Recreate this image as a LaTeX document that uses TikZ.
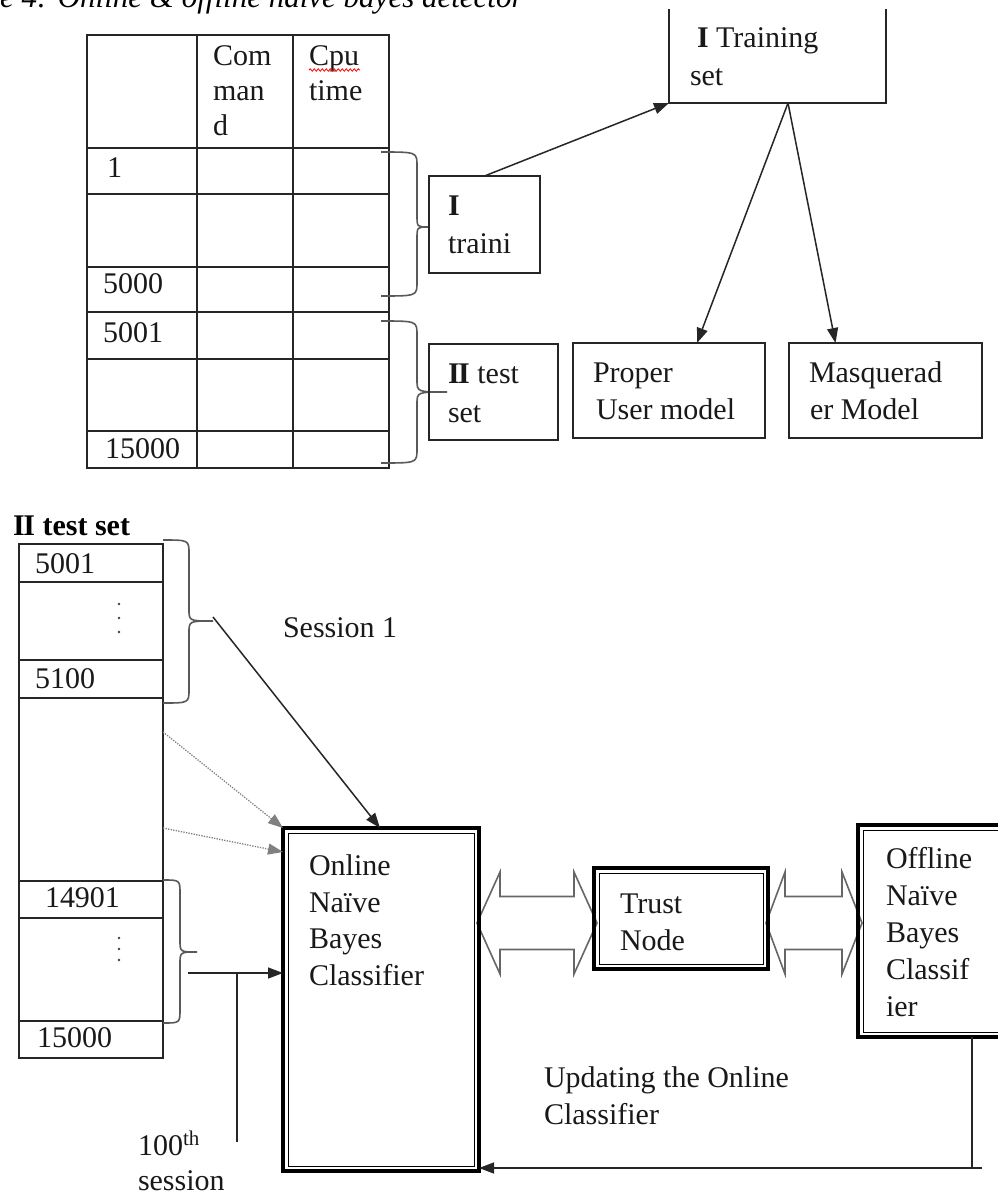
\documentclass[tikz,border=0pt]{standalone}
\usepackage{fontspec}
\setmainfont{Liberation Serif}
\usetikzlibrary{arrows.meta,decorations.pathmorphing}

\tikzset{
  txt/.style={anchor=base west, inner sep=0pt, outer sep=0pt, text=black!90, font=\fontsize{30}{36}\selectfont},
  rule/.style={draw=black!85, line width=1.8pt},
  box/.style={draw=black!85, line width=1.8pt, inner sep=0pt, outer sep=0pt, anchor=north west},
  dblbox/.style={draw=black, line width=3.6pt, inner sep=0pt, outer sep=0pt, anchor=north west},
  innerline/.style={draw=black, line width=1pt},
  conn/.style={draw=black!85, line width=1.5pt, -{Triangle[length=15pt,width=11pt]}},
  dotconn/.style={draw=black!50, line width=1.3pt, dash pattern=on 1.3pt off 1.3pt, -{Triangle[length=15pt,width=11pt]}},
  plain/.style={draw=black!85, line width=1.5pt},
  curly/.style={draw=black!65, line width=1.6pt},
  block/.style={draw=black!60, line width=1.6pt, fill=white, line join=miter},
}

% right curly brace: x of ends, y top, y bottom, x of spine, x of tip, y of tip
\newcommand{\rcurly}[6]{%
  \draw[curly] (#1,#2) .. controls (#4,#2) and (#4,#2) .. (#4,#2+14)
    -- (#4,#6-12) .. controls (#4,#6) and (#4,#6) .. (#5,#6)
    .. controls (#4,#6) and (#4,#6) .. (#4,#6+12)
    -- (#4,#3-14) .. controls (#4,#3) and (#4,#3) .. (#1,#3);}

% hollow two-headed block arrow: left tip, left barb, right barb, right tip, mid y, half head, half shaft
\newcommand{\twoway}[7]{%
  \draw[block] (#1,#5) -- (#2,#5-#6) -- (#2,#5-#7) -- (#3,#5-#7) -- (#3,#5-#6)
    -- (#4,#5) -- (#3,#5+#6) -- (#3,#5+#7) -- (#2,#5+#7) -- (#2,#5+#6) -- cycle;}

\begin{document}
\begin{tikzpicture}[x=1pt,y=-1pt]
\useasboundingbox (0,0) rectangle (998,1197);
\clip (0,0) rectangle (998,1197);
\fill[white] (0,0) rectangle (998,1197);

% caption line, cut by the top edge
\node[anchor=base west, inner sep=0pt, text=black, font=\fontsize{31}{36}\selectfont\itshape] (caption) at (0,7) {e 4: Online \& offline naïve bayes detector};

% ---------------- upper table ----------------
\draw[rule] (87,35) rectangle (389,468);
\foreach \yy in {148,194,267,312,359,431} \draw[rule] (87,\yy) -- (389,\yy);
\draw[rule] (197,35) -- (197,468);
\draw[rule] (293,35) -- (293,468);

\node[txt] (hcom1) at (213,65) {Com};
\node[txt] (hcom2) at (213,100) {man};
\node[txt] (hcom3) at (213,135) {d};
\node[txt] (hcpu1) at (309,65) {Cpu};
\node[txt] (hcpu2) at (309,100) {time};
\draw[red, line width=0.8pt, decorate, decoration={snake, amplitude=1.2pt, segment length=4pt}] (309,70) -- (360,70);

\node[txt] (r1) at (107,177) {1};
\node[txt] (r5000) at (103,293) {5000};
\node[txt] (r5001) at (103,342) {5001};
\node[txt] (r15000) at (105,458) {15000};

\rcurly{381}{152}{296}{417}{428}{227}
\rcurly{381}{321}{463}{417}{447}{392}

% ---------------- upper boxes ----------------
\node[box, minimum width=111pt, minimum height=97pt] (traini) at (429,176) {};
\node[box, minimum width=129pt, minimum height=96pt] (testset) at (429,344) {};
\node[inner sep=0pt, outer sep=0pt, anchor=north west, minimum width=217pt, minimum height=94pt] (train) at (669,9) {};
\draw[rule] (train.north west) -- (train.south west) -- (train.south east) -- (train.north east);
\node[box, minimum width=192pt, minimum height=95pt] (proper) at (573,343) {};
\node[box, minimum width=193pt, minimum height=95pt] (masq) at (789,343) {};

\node[txt] (ttraini1) at (448,215) {\textbf{I}};
\node[txt] (ttraini2) at (448,253) {traini};
\node[txt] (ttest1) at (448,383) {\textbf{I\kern-1.5ptI} test};
\node[txt] (ttest2) at (448,422) {set};
\node[txt] (ttrain1) at (697,47) {\textbf{I} Training};
\node[txt] (ttrain2) at (690,85) {set};
\node[txt] (tproper1) at (593,382) {Proper};
\node[txt] (tproper2) at (596,419) {User model};
\node[txt] (tmasq1) at (809,382) {Masquerad};
\node[txt] (tmasq2) at (810,419) {er Model};

\coordinate (trainfoot) at (788,103);
\draw[conn] (traini.north) -- (train.south west);
\draw[conn] (trainfoot) -- ([xshift=28pt]proper.north);
\draw[conn] (trainfoot) -- ([xshift=-50pt]masq.north);

% ---------------- test set column ----------------
\node[anchor=base west, inner sep=0pt, text=black, font=\fontsize{30}{36}\selectfont\bfseries] (testhead) at (13,535) {I\kern-1.5ptI test set};

\draw[rule] (19,544) rectangle (163,1058);
\foreach \yy in {582,660,698,881,918,1021} \draw[rule] (19,\yy) -- (163,\yy);

\node[txt] (c5001) at (35,573) {5001};
\node[txt] (c5100) at (35,688) {5100};
\node[txt] (c14901) at (45,907) {14901};
\node[txt] (c15000) at (37,1047) {15000};
\foreach \yy in {604,618,632} \fill[black!75] (119,\yy) circle[radius=1.4pt];
\foreach \yy in {938,949,960} \fill[black!75] (119,\yy) circle[radius=1.4pt];

\rcurly{163}{540}{703}{189}{213}{621}
\rcurly{163}{880}{1023}{180}{197}{952}

% ---------------- classifiers ----------------
\twoway{477}{500}{574}{597}{923}{51}{26.5}
\twoway{766}{785}{842}{862}{923}{51}{26.5}

\node[dblbox, minimum width=196pt, minimum height=343pt] (online) at (283,828) {};
\draw[innerline] ([shift={(5,5)}]online.north west) rectangle ([shift={(-5,-5)}]online.south east);
\node[dblbox, minimum width=174pt, minimum height=101pt] (trust) at (594,868) {};
\draw[innerline] ([shift={(5,5)}]trust.north west) rectangle ([shift={(-5,-5)}]trust.south east);
\node[dblbox, minimum width=170pt, minimum height=212pt] (offline) at (858,825) {};
\draw[innerline] ([shift={(5,5)}]offline.north west) rectangle ([shift={(-5,-5)}]offline.south east);

\node[txt] (ton1) at (309,875) {Online};
\node[txt] (ton2) at (309,912) {Naïve};
\node[txt] (ton3) at (309,948) {Bayes};
\node[txt] (ton4) at (309,985) {Classifier};
\node[txt] (ttr1) at (620,913) {Trust};
\node[txt] (ttr2) at (620,950) {Node};
\node[txt] (toff1) at (886,868) {Offline};
\node[txt] (toff2) at (886,905) {Naïve};
\node[txt] (toff3) at (886,942) {Bayes};
\node[txt] (toff4) at (886,979) {Classif};
\node[txt] (toff5) at (886,1016) {ier};

\node[txt] (sess1) at (283,637) {Session 1};
\node[txt] (upd1) at (544,1087) {Updating the Online};
\node[txt] (upd2) at (544,1124) {Classifier};
\node[txt] (hundred) at (138,1155) {100\textsuperscript{th}};
\node[txt] (hsession) at (138,1190) {session};

% ---------------- connectors ----------------
\coordinate (tipA) at (213,617);
\draw[conn] (tipA) -- ([xshift=-1pt]online.north);
\coordinate (dotA) at (163,732);
\coordinate (dotB) at (163,828);
\draw[dotconn] (dotA) -- (online.north west);
\draw[dotconn] (dotB) -- ([yshift=-24pt]online.north west);

\coordinate (lastset) at (188,973);
\draw[conn] (lastset) -- (lastset -| online.west);
\coordinate (lastTop) at (237,973);
\coordinate (lastEnd) at (237,1142);
\draw[plain] (lastTop) -- (lastEnd);

\coordinate (fbCorner) at (972,1168);
\coordinate (fbTail) at (982,1168);
\draw[plain] (offline.south -| fbCorner) -- (fbCorner);
\draw[conn] (fbTail) -- (fbTail -| online.east);
\end{tikzpicture}
\end{document}
